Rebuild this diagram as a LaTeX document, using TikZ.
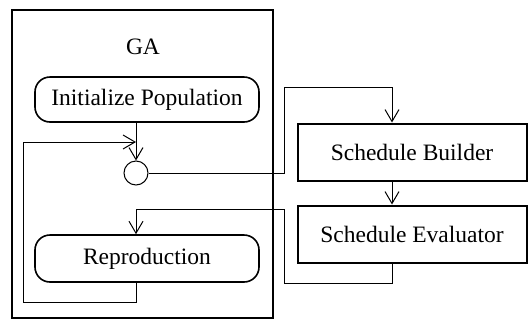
\documentclass[tikz,border=0pt]{standalone}
\usepackage{fontspec}
\setmainfont{Liberation Serif}
\usetikzlibrary{arrows.meta}

\begin{document}
\begin{tikzpicture}[x=1pt, y=-1pt, line width=1pt,
        font=\fontsize{23.5}{28}\selectfont,
        arr/.style = {-{Straight Barb[length=12pt, width=14pt, line width=1pt]}},
        act/.style = {draw, line width=1.6pt, rounded corners=15pt, minimum width=224pt, minimum height=45pt},
        comp/.style = {draw, line width=2pt, minimum width=229pt, minimum height=57pt},
        frame/.style = {draw, line width=2.4pt, minimum width=261pt, minimum height=308pt}]
        \useasboundingbox (0,0) rectangle (530,322);

        \node[frame] (ga) at (142.5,164) {};
        \node (title) at (143,47) {GA};
        \node[act] (init) at (147,99.5) {Initialize Population};
        \node[draw, circle, minimum size=24pt, inner sep=0pt] (join) at (136,173) {};
        \node[act, minimum height=47pt] (rep) at (147,258.5) {Reproduction};
        \node[comp] (sb) at (412,152) {Schedule Builder};
        \node[comp] (se) at (412,234) {Schedule Evaluator};

        \coordinate (loopl) at (23,302);
        \coordinate (loopin) at (136,142);
        \coordinate (out) at (284,87);
        \coordinate (tap) at (392,123);
        \coordinate (back) at (284,283);
        \coordinate (feed) at (136,209);

        \draw[arr] (init.south -| join) -- (join);
        \draw[arr] (rep.south -| join) |- (loopl) |- (loopin);
        \draw[arr] (join) -- (out |- join) -- (out) -| (sb.north -| tap);
        \draw[arr] (sb.south -| tap) -- (se.north -| tap);
        \draw[arr] (se.south -| tap) |- (back) -- (back |- feed) -- (feed) -- (rep.north -| feed);

    \end{tikzpicture}
\end{document}
